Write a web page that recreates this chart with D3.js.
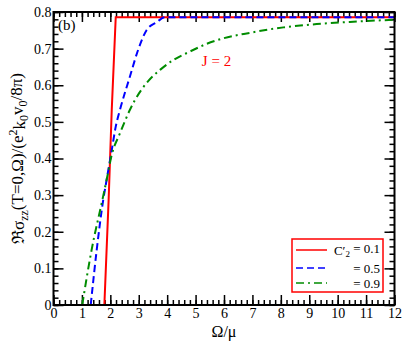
<!DOCTYPE html>
<html>
<head>
<meta charset="utf-8">
<script src="https://cdn.jsdelivr.net/npm/d3@7"></script>
<style>
body { margin: 0; background: #fff; }
</style>
</head>
<body>
<script>
// curves: Omega/mu and Re sigma_zz
var omegaRed = [0, 1.79, 1.94, 2.05, 2.19, 12];
var sigmaRed = [0, 0, 0.287, 0.533, 0.786, 0.786];

var omegaBlue = [0, 1.31, 1.52, 1.75, 1.87, 2.05, 2.19, 2.34, 2.69, 2.98, 3.28, 3.63, 3.92, 12];
var sigmaBlue = [0, 0, 0.15, 0.287, 0.342, 0.423, 0.487, 0.533, 0.624, 0.697, 0.751, 0.772, 0.786, 0.786];

var omegaGreen = [0, 1.01, 1.34, 1.72, 1.87, 2.05, 2.34, 2.69, 2.87, 3.34, 3.75, 4.22, 4.8, 5.39, 5.97, 6.9, 8.09, 9.26, 10.43, 12];
var sigmaGreen = [0, 0, 0.15, 0.287, 0.342, 0.41, 0.469, 0.533, 0.56, 0.612, 0.642, 0.669, 0.692, 0.713, 0.728, 0.743, 0.758, 0.767, 0.773, 0.779];

var legendLabels = ["0.1", "0.5", "0.9"];
var xTicks = d3.range(0, 13, 1);
var yTicks = [0, 0.1, 0.2, 0.3, 0.4, 0.5, 0.6, 0.7, 0.8];

var width = 415, height = 346;
var margin = {left: 53.5, right: 20.5, top: 12, bottom: 41};
var w = width - margin.left - margin.right;
var h = height - margin.top - margin.bottom;
var serif = "Liberation Serif, DejaVu Serif, serif";

var svg = d3.select("body").append("svg").attr("width", width).attr("height", height)
	.style("font-family", serif);
var g = svg.append("g").attr("transform", "translate(" + margin.left + "," + margin.top + ")");

var x = d3.scaleLinear().domain([0, 12]).range([0, w]);
var y = d3.scaleLinear().domain([0, 0.8]).range([h, 0]);

var xMinor = d3.range(0, 12.01, 0.2).map(function(d){ return +d.toFixed(2); });
var yMinor = d3.range(0, 0.801, 0.02).map(function(d){ return +d.toFixed(2); });

function styleAxis(sel) {
	sel.attr("font-family", null).attr("font-size", null).style("font-size", "14px");
	sel.select(".domain").remove();
	sel.selectAll("line").attr("stroke", "#000").attr("stroke-width", 1.5);
	sel.selectAll("text").attr("fill", "#000").style("font-family", serif);
}

// minor ticks on all four sides
g.append("g").attr("transform", "translate(0," + h + ")")
	.call(d3.axisBottom(x).tickValues(xMinor).tickSize(-5).tickFormat("")).call(styleAxis);
g.append("g")
	.call(d3.axisTop(x).tickValues(xMinor).tickSize(-5).tickFormat("")).call(styleAxis);
g.append("g")
	.call(d3.axisLeft(y).tickValues(yMinor).tickSize(-5).tickFormat("")).call(styleAxis);
g.append("g").attr("transform", "translate(" + w + ",0)")
	.call(d3.axisRight(y).tickValues(yMinor).tickSize(-5).tickFormat("")).call(styleAxis);

// major ticks
g.append("g").attr("transform", "translate(0," + h + ")")
	.call(d3.axisBottom(x).tickValues(xTicks).tickSize(-10).tickPadding(3).tickFormat(d3.format("d"))).call(styleAxis);
g.append("g")
	.call(d3.axisTop(x).tickValues(xTicks).tickSize(-10).tickFormat("")).call(styleAxis);
g.append("g")
	.call(d3.axisLeft(y).tickValues(yTicks).tickSize(-10).tickPadding(2).tickFormat(function(d){ return d === 0 ? "0" : d3.format(".1f")(d); })).call(styleAxis);
g.append("g").attr("transform", "translate(" + w + ",0)")
	.call(d3.axisRight(y).tickValues(yTicks).tickSize(-10).tickFormat("")).call(styleAxis);

// curves
var series = [
	{xs: omegaRed, ys: sigmaRed, color: "#ff0000", dash: null, curve: d3.curveLinear},
	{xs: omegaBlue, ys: sigmaBlue, color: "#0000ff", dash: "7,4", curve: d3.curveMonotoneX},
	{xs: omegaGreen, ys: sigmaGreen, color: "#008c00", dash: "8,4,2,4", curve: d3.curveMonotoneX}
];

series.forEach(function(s){
	var pts = s.xs.map(function(v, i){ return [v, s.ys[i]]; });
	var line = d3.line().x(function(d){ return x(d[0]); }).y(function(d){ return y(d[1]); }).curve(s.curve);
	g.append("path")
		.datum(pts.filter(function(d){ return d[1] > 0 || d[0] > 0.5; }))
		.attr("d", line)
		.attr("fill", "none")
		.attr("stroke", s.color)
		.attr("stroke-width", 2)
		.attr("stroke-dasharray", s.dash);
});

// frame
g.append("rect").attr("width", w).attr("height", h)
	.attr("fill", "none").attr("stroke", "#000").attr("stroke-width", 2);

// labels
g.append("text").attr("x", 4.5).attr("y", 18).style("font-size", "15px").text("(b)");
g.append("text").attr("x", x(5.22)).attr("y", 54).attr("fill", "#ff0000").style("font-size", "15px").text("J = 2");

svg.append("text").attr("x", margin.left + w / 2).attr("y", 337)
	.attr("text-anchor", "middle").style("font-size", "16px").text("Ω/μ");

var yt = svg.append("text")
	.attr("transform", "translate(24," + (margin.top + h / 2) + ") rotate(-90)")
	.attr("text-anchor", "middle").style("font-size", "17px");
yt.append("tspan").text("ℜσ");
yt.append("tspan").attr("dy", "0.3em").style("font-size", "12px").text("zz");
yt.append("tspan").attr("dy", "-0.3em").text("(T=0,Ω)/(e");
yt.append("tspan").attr("dy", "-0.45em").style("font-size", "12px").text("2");
yt.append("tspan").attr("dy", "0.45em").text("k");
yt.append("tspan").attr("dy", "0.3em").style("font-size", "12px").text("0");
yt.append("tspan").attr("dy", "-0.3em").text("v");
yt.append("tspan").attr("dy", "0.3em").style("font-size", "12px").text("0");
yt.append("tspan").attr("dy", "-0.3em").text("/8π)");

// legend
var leg = svg.append("g").attr("transform", "translate(292,239)");
leg.append("rect").attr("width", 91).attr("height", 53)
	.attr("fill", "#fff").attr("stroke", "#ff0000").attr("stroke-width", 1.5);
var rows = leg.selectAll("g.row").data(series).enter().append("g")
	.attr("transform", function(d, i){ return "translate(0," + [11, 29, 44][i] + ")"; });
rows.append("line").attr("x1", 4).attr("x2", 35).attr("y1", 0).attr("y2", 0)
	.attr("stroke", function(d){ return d.color; }).attr("stroke-width", 1.5)
	.attr("stroke-dasharray", function(d){ return d.dash; });
var lt = rows.append("text").attr("x", 88).attr("y", 4.5).attr("text-anchor", "end").style("font-size", "13px");
lt.each(function(d, i){
	var t = d3.select(this);
	if (i === 0) {
		t.append("tspan").text("C′");
		t.append("tspan").attr("dy", "0.3em").style("font-size", "9px").text("2");
		t.append("tspan").attr("dy", "-0.3em").text(" = " + legendLabels[i]);
	} else {
		t.text("= " + legendLabels[i]);
	}
});
</script>
</body>
</html>
